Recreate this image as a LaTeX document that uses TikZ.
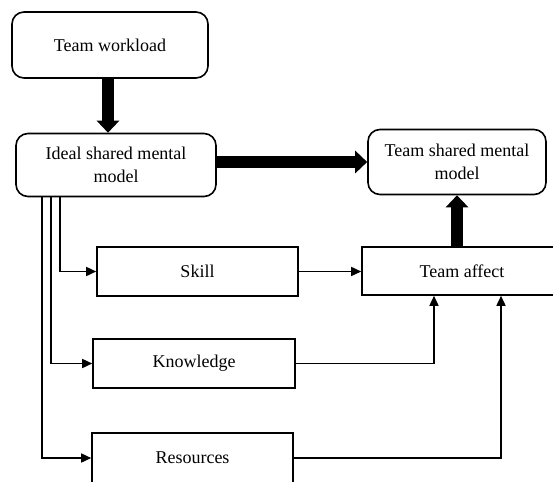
\documentclass[tikz,border=0pt]{standalone}
\usepackage{fontspec}
\setmainfont{Liberation Serif}
\usetikzlibrary{arrows.meta}

\begin{document}
\begin{tikzpicture}[x=1pt,y=-1pt,
  every node/.style={font=\fontsize{18}{23}\selectfont, align=center},
  box/.style={draw, line width=1.6pt, inner sep=0pt},
  rbox/.style={box, rounded corners=12pt},
  flow/.style={line width=1.6pt, -{Triangle[width=9pt,length=10pt]}},
  bigflow/.style={line width=12pt, -{Triangle[width=22pt,length=12pt]}}]
\clip (0,0) rectangle (553,481);
% top row
\node[rbox, minimum width=196pt, minimum height=66pt] (workload) at (110,45) {Team workload};
\node[rbox, minimum width=200pt, minimum height=63pt] (ideal) at (116,165) {Ideal shared mental\\model};
\node[rbox, minimum width=178pt, minimum height=65pt] (shared) at (457,162) {Team shared mental\\model};
% middle boxes
\node[box, minimum width=200pt, minimum height=48pt] (affect) at (462,271) {Team affect};
\node[box, minimum width=201pt, minimum height=49pt] (skill) at (197.5,271.5) {Skill};
\node[box, minimum width=202pt, minimum height=49pt] (knowledge) at (194,363.5) {Knowledge};
\node[box, minimum width=201pt, minimum height=50pt] (resources) at (192.5,458) {Resources};
% thick arrows
\draw[bigflow] ([xshift=-2pt]workload.south) -- ([xshift=-2pt]workload.south |- ideal.north);
\draw[bigflow] (ideal.east |- shared.west) -- (shared.west);
\draw[bigflow] (shared.south |- affect.north) -- (shared.south);
% thin arrows
\draw[flow] ([xshift=45pt]ideal.south west) |- (skill.west);
\draw[flow] ([xshift=36pt]ideal.south west) |- (knowledge.west);
\draw[flow] ([xshift=27pt]ideal.south west) |- (resources.west);
\draw[flow] (skill.east) -- (affect.west |- skill.east);
\draw[flow] (knowledge.east) -| ([xshift=-28pt]affect.south);
\draw[flow] (resources.east) -| ([xshift=39pt]affect.south);
\end{tikzpicture}
\end{document}
